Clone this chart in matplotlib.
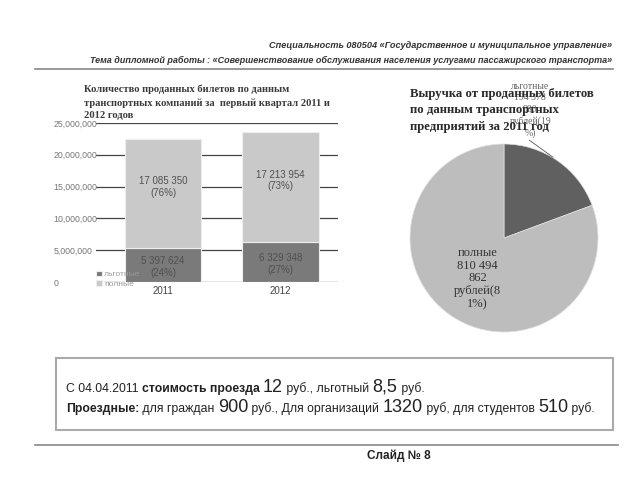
import matplotlib.pyplot as plt
from matplotlib.patches import Rectangle
from matplotlib.lines import Line2D
from matplotlib.ticker import StrMethodFormatter

years = ['2011', '2012']
lgot = [5397624, 6329348]
full = [17085350, 17213954]
lgot_lbl = ['5 397 624\n(24%)', '6 329 348\n(27%)']
full_lbl = ['17 085 350\n(76%)', '17 213 954\n(73%)']
pie_vals = [194378980, 810494862]
pie_lbl = ['льготные\n194 378\n980\nрублей(19\n%)', 'полные\n810 494\n862\nрублей(8\n1%)']

header1 = 'Специальность 080504 «Государственное и муниципальное управление»'
header2 = 'Тема дипломной работы : «Совершенствование обслуживания населения услугами пассажирского транспорта»'
bar_title = 'Количество проданных билетов по данным\nтранспортных компаний за  первый квартал 2011 и\n2012 годов'
pie_title = 'Выручка от проданных билетов\nпо данным транспортных\nпредприятий за 2011 год'

SANS = ['Liberation Sans', 'DejaVu Sans']
SERIF = ['Liberation Serif', 'DejaVu Serif']
plt.rcParams['font.family'] = SANS

fig = plt.figure(figsize=(6.4, 4.8), dpi=100)
W, H = 640, 480

def fx(px):
    return px / W

def fy(py):
    return 1 - py / H

# header
fig.text(fx(612), fy(45), header1, ha='right', va='center', fontsize=6.6,
         style='italic', weight='bold', color='#333333')
fig.text(fx(612), fy(60), header2, ha='right', va='center', fontsize=6.45,
         style='italic', weight='bold', color='#333333')
fig.add_artist(Line2D([fx(35), fx(613)], [fy(69), fy(69)], color='#888888', lw=1.2))

# bar chart
ax = fig.add_axes([fx(96), fy(282), fx(338) - fx(96), fy(123) - fy(282)])
x = range(len(years))
ax.bar(x, lgot, width=0.65, color='#7a7a7a', edgecolor='#eeeeee', lw=0.8,
       label='льготные', zorder=3)
ax.bar(x, full, bottom=lgot, width=0.65, color='#c9c9c9', edgecolor='#eeeeee', lw=0.8,
       label='полные', zorder=3)
for i in x:
    ax.text(i, lgot[i] / 2 - 300000, lgot_lbl[i], ha='center', va='center',
            fontsize=7, color='#505050', zorder=4)
    ax.text(i, lgot[i] + full[i] / 2 + 1000000, full_lbl[i], ha='center', va='center',
            fontsize=7, color='#505050', zorder=4)
ax.set_xlim(-0.57, 1.49)
ax.set_ylim(0, 25000000)
ax.set_yticks(range(0, 25000001, 5000000))
ax.yaxis.set_major_formatter(StrMethodFormatter('{x:,.0f}'))
ax.set_xticks(list(x))
ax.set_xticklabels(years)
ax.grid(axis='y', color='#444444', lw=0.9, zorder=0)
for s in ax.spines.values():
    s.set_visible(False)
ax.tick_params(axis='y', length=0, pad=30.5, labelsize=6.3, labelcolor='#777777')
ax.tick_params(axis='x', length=0, pad=3, labelsize=7, labelcolor='#444444')
for t in ax.get_yticklabels():
    t.set_horizontalalignment('left')
leg = ax.legend(loc='lower left', bbox_to_anchor=(0.0, -0.035), frameon=False, fontsize=6,
                handlelength=0.7, handleheight=0.7, handletextpad=0.3, labelspacing=0.15,
                borderpad=0, borderaxespad=0, labelcolor='#999999')
leg.set_zorder(6)
fig.text(fx(84), fy(85), bar_title, ha='left', va='top', fontsize=7.6, weight='bold',
         family=SERIF, color='#3a3a3a', linespacing=1.5)

# pie chart
pax = fig.add_axes([fx(410), fy(332), fx(598) - fx(410), fy(144) - fy(332)])
pax.pie(pie_vals, colors=['#606060', '#bdbdbd'], startangle=90, counterclock=False,
        radius=1, wedgeprops=dict(edgecolor='#e0e0e0', lw=0.5))
pax.set_xlim(-1, 1)
pax.set_ylim(-1, 1)
pax.set_aspect('equal')
pax.axis('off')
pax.text(-0.28, -0.43, pie_lbl[1], ha='center', va='center', fontsize=9,
         family=SERIF, color='#333333', linespacing=1.1)
pax.text(0.28, 1.36, pie_lbl[0], ha='center', va='center', fontsize=7,
         family=SERIF, color='#666666', linespacing=1.35, clip_on=False)
pax.plot([0.27, 0.52], [1.04, 0.86], color='#555555', lw=0.6, clip_on=False)
fig.text(fx(410), fy(88), pie_title, ha='left', va='top', fontsize=9.2, weight='bold',
         family=SERIF, color='#2a2a2a', linespacing=1.5)

# info box
fig.add_artist(Rectangle((fx(56), fy(430)), fx(613) - fx(56), fy(358) - fy(430),
                         fill=False, ec='#aaaaaa', lw=1.5))
line1 = [('С 04.04.2011 ', 8.8, 'normal'), ('стоимость проезда ', 8.8, 'bold'),
         ('12', 13, 'normal'), (' руб., льготный ', 8.8, 'normal'),
         ('8,5', 13, 'normal'), (' руб.', 8.8, 'normal')]
line2 = [('Проездные:', 8.8, 'bold'), (' для граждан ', 8.8, 'normal'),
         ('900', 13, 'normal'), (' руб., Для организаций ', 8.8, 'normal'),
         ('1320', 13, 'normal'), (' руб, для студентов ', 8.8, 'normal'),
         ('510', 13, 'normal'), (' руб.', 8.8, 'normal')]
renderer = fig.canvas.get_renderer()
for parts, base in [(line1, 392), (line2, 412)]:
    xp = 66
    for s, size, w in parts:
        t = fig.text(fx(xp), fy(base), s, ha='left', va='baseline', fontsize=size,
                     weight=w, color='#222222')
        xp += t.get_window_extent(renderer).width

# footer
fig.add_artist(Line2D([fx(35), fx(618)], [fy(445), fy(445)], color='#888888', lw=1.2))
fig.text(fx(367), fy(456), 'Слайд № 8', ha='left', va='center', fontsize=8.5,
         weight='bold', color='#222222')

fig.savefig('out.png', dpi=100)
